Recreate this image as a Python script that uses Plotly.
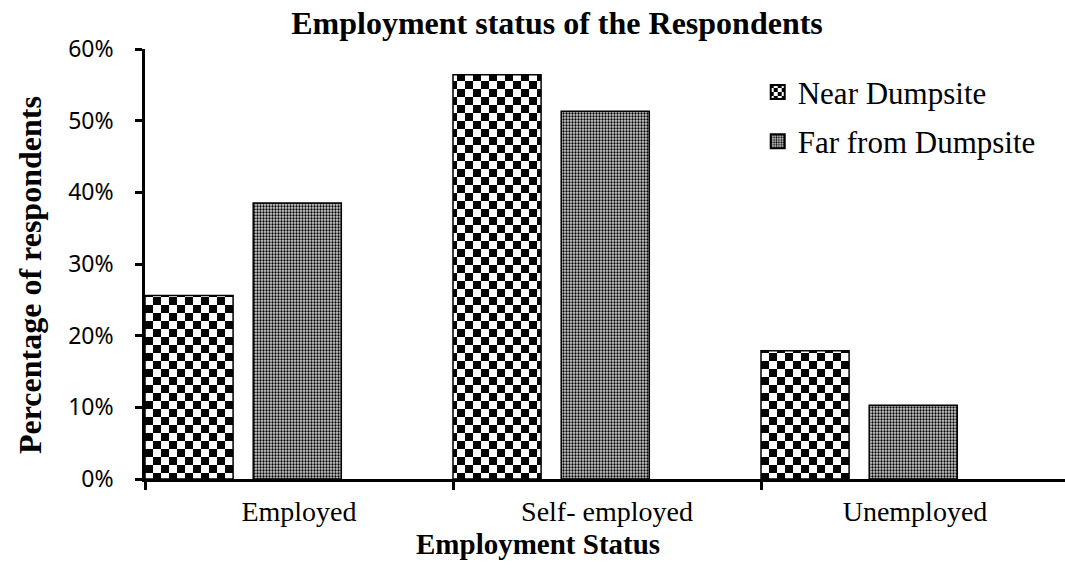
import plotly.graph_objects as go

categories = ["Employed", "Self- employed", "Unemployed"]
near_dumpsite = [0.256, 0.564, 0.179]
far_from_dumpsite = [0.385, 0.513, 0.103]
y_ticks = [0.0, 0.1, 0.2, 0.3, 0.4, 0.5, 0.6]
y_tick_labels = ["0%", "10%", "20%", "30%", "40%", "50%", "60%"]

serif = "Liberation Serif, Times New Roman, serif"
sans = "Noto Sans, Open Sans, sans-serif"

fig = go.Figure()

# each category is split into three slots; the two series occupy the first two
bar_w = 0.286
slot = 1.0 / 3.0

fig.add_trace(go.Bar(
    name="Near Dumpsite",
    x=categories, y=near_dumpsite,
    width=bar_w, offset=-0.5,
    marker=dict(
        color="white",
        line=dict(color="black", width=1.5),
        pattern=dict(shape="+", fgcolor="black", bgcolor="white",
                     size=16, solidity=0.5, fillmode="replace"),
    ),
    legendgroup="a",
))
fig.add_trace(go.Bar(
    name="Far from Dumpsite",
    x=categories, y=far_from_dumpsite,
    width=bar_w, offset=-0.5 + slot + 0.018,
    marker=dict(
        color="white",
        line=dict(color="black", width=1.5),
        pattern=dict(shape=".", fgcolor="black", bgcolor="#d0d0d0",
                     size=3, solidity=0.45, fillmode="replace"),
    ),
    legendgroup="b",
))

fig.update_layout(
    width=1065, height=568,
    margin=dict(l=145, r=0, t=49, b=89),
    paper_bgcolor="white", plot_bgcolor="white",
    barmode="overlay",
    showlegend=True,
    title=dict(
        text="<b>Employment status of the Respondents</b>",
        font=dict(family=serif, size=32, color="black"),
        x=0.523, xanchor="center", xref="container",
        y=1 - 23 / 568, yanchor="middle", yref="container",
    ),
    legend=dict(
        x=0.666, xanchor="left", y=0.962, yanchor="top",
        font=dict(family=serif, size=31, color="black"),
        bgcolor="rgba(0,0,0,0)",
        traceorder="grouped", tracegroupgap=6,
    ),
    xaxis=dict(
        type="category",
        range=[-0.5, 2.487],
        showline=True, linecolor="black", linewidth=2.5,
        ticks="outside", tickson="boundaries", ticklen=8, tickwidth=2.5,
        tickcolor="black",
        tickfont=dict(family=serif, size=28, color="black"),
        ticklabelstandoff=6,
        showgrid=False, zeroline=False,
    ),
    yaxis=dict(
        range=[0, 0.6],
        tickvals=y_ticks, ticktext=y_tick_labels,
        showline=True, linecolor="black", linewidth=2.5,
        ticks="outside", ticklen=7, tickwidth=2.5, tickcolor="black",
        tickfont=dict(family=sans, size=23, color="black"),
        ticklabelstandoff=17,
        showgrid=False, zeroline=False,
    ),
    annotations=[
        dict(text="<b>Employment Status</b>", xref="paper", yref="paper",
             x=(538 - 145) / 920, y=-(544 - 479) / 430,
             xanchor="center", yanchor="middle", showarrow=False,
             font=dict(family=serif, size=29, color="black")),
        dict(text="<b>Percentage of respondents</b>", xref="paper", yref="paper",
             x=-(145 - 30) / 920, y=(479 - 275) / 430, textangle=-90,
             xanchor="center", yanchor="middle", showarrow=False,
             font=dict(family=serif, size=32, color="black")),
    ],
)

# turn the "+" fill into a checkerboard tile of the same size,
# and draw the legend swatches a little larger with a heavier border
checker_js = """
var gd = document.getElementById('{plot_id}');
function checker() {
  gd.querySelectorAll('pattern').forEach(function (p) {
    var path = p.querySelector('path');
    if (!path || p.getAttribute('data-checker')) return;
    var s = parseFloat(p.getAttribute('width'));
    var h = s / 2;
    path.setAttribute('d', 'M0,0H' + h + 'V' + h + 'H0Z M' + h + ',' + h + 'H' + s + 'V' + s + 'H' + h + 'Z');
    path.setAttribute('style', 'fill:black;stroke:none;');
    p.setAttribute('data-checker', '1');
  });
  gd.querySelectorAll('.legendpoints path').forEach(function (el) {
    el.setAttribute('d', 'M7,7H-7V-7H7Z');
    el.style.strokeWidth = '2px';
  });
}
checker();
gd.on('plotly_afterplot', checker);
"""

fig.write_html("out.html", post_script=checker_js,
               config={"displayModeBar": False})
